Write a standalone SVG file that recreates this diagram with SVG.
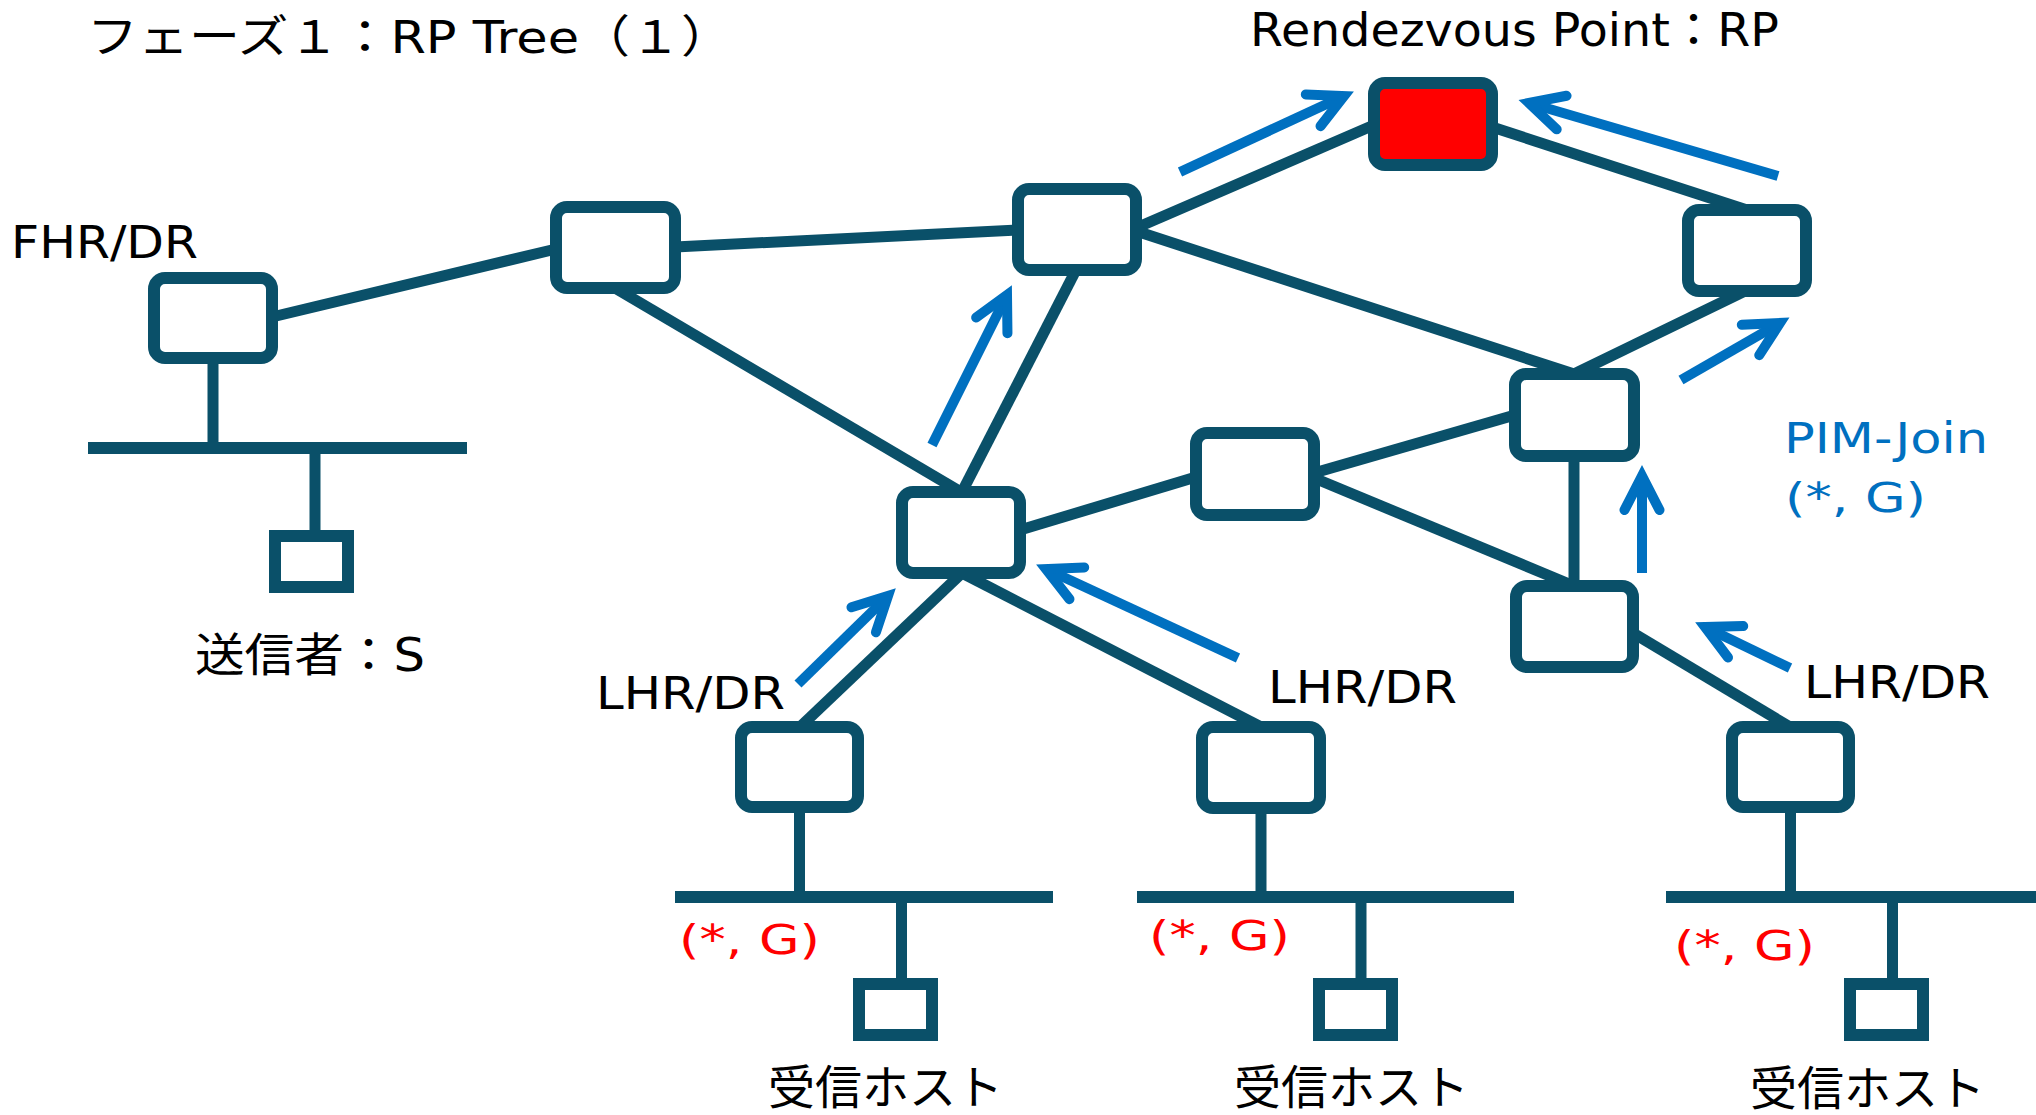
<svg xmlns="http://www.w3.org/2000/svg" width="2036" height="1115" viewBox="0 0 2036 1115">
  <defs>
    <style>
      .link { stroke: #0a5069; stroke-width: 11; fill: none; stroke-linecap: butt; }
      .bus { stroke: #0a5069; stroke-width: 12; fill: none; }
      .router { fill: #ffffff; stroke: #0a5069; stroke-width: 12; }
      .rp { fill: #ff0000; stroke: #0a5069; stroke-width: 12; }
      .host { fill: #ffffff; stroke: #0a5069; stroke-width: 12; }
      .join { stroke: #0070c0; stroke-width: 10; fill: none; stroke-linecap: butt; marker-end: url(#openHead); }
      .lbl { font-family: "DejaVu Sans", "Noto Sans CJK JP", sans-serif; fill: #000000; }
      .jp { font-family: "Noto Sans CJK JP", "DejaVu Sans", sans-serif; fill: #000000; }
      .blue { fill: #0070c0; }
      .red { fill: #ff0000; }
    </style>
    <marker id="openHead" markerUnits="userSpaceOnUse" orient="auto" refX="0" refY="0" markerWidth="1" markerHeight="1" overflow="visible">
      <path d="M-34,-17.5 L0,0 L-34,17.5" fill="none" stroke="#0070c0" stroke-width="10" stroke-linecap="round" stroke-linejoin="miter" stroke-miterlimit="10"/>
    </marker>
  </defs>

  <rect width="2036" height="1115" fill="#ffffff"/>

  <!-- links between routers, buses and host stubs -->
  <g id="connectors">
    <line class="link" x1="272" y1="317" x2="556" y2="249"/>
    <line class="link" x1="675" y1="247" x2="1018" y2="230"/>
    <line class="link" x1="615" y1="288" x2="961" y2="492"/>
    <line class="link" x1="1076" y1="270" x2="962" y2="492"/>
    <line class="link" x1="1136" y1="228" x2="1374" y2="125"/>
    <line class="link" x1="1136" y1="231" x2="1574" y2="374"/>
    <line class="link" x1="1492" y1="127" x2="1747" y2="210"/>
    <line class="link" x1="1745" y1="291" x2="1574" y2="374"/>
    <line class="link" x1="1515" y1="415" x2="1314" y2="473"/>
    <line class="link" x1="1314" y1="478" x2="1574" y2="586"/>
    <line class="link" x1="1574" y1="456" x2="1574" y2="586"/>
    <line class="link" x1="1020" y1="530" x2="1196" y2="477"/>
    <line class="link" x1="962" y1="573" x2="800" y2="727"/>
    <line class="link" x1="962" y1="573" x2="1261" y2="727"/>
    <line class="link" x1="1633" y1="633" x2="1790" y2="727"/>

    <!-- router to segment stubs -->
    <line class="link" x1="213" y1="358" x2="213" y2="448"/>
    <line class="link" x1="799.5" y1="807" x2="799.5" y2="897"/>
    <line class="link" x1="1261" y1="808" x2="1261" y2="897"/>
    <line class="link" x1="1790.5" y1="807" x2="1790.5" y2="897"/>

    <!-- LAN segments -->
    <line class="bus" x1="88" y1="448" x2="467" y2="448"/>
    <line class="bus" x1="675" y1="897" x2="1053" y2="897"/>
    <line class="bus" x1="1137" y1="897" x2="1514" y2="897"/>
    <line class="bus" x1="1666" y1="897" x2="2036" y2="897"/>

    <!-- host stubs -->
    <line class="link" x1="315" y1="448" x2="315" y2="536"/>
    <line class="link" x1="901.5" y1="897" x2="901.5" y2="984"/>
    <line class="link" x1="1361" y1="897" x2="1361" y2="984"/>
    <line class="link" x1="1892.5" y1="897" x2="1892.5" y2="984"/>
  </g>

  <!-- routers -->
  <g id="fhr"><rect class="router" x="154" y="278" width="118" height="80" rx="11"/></g>
  <g id="r-a"><rect class="router" x="556" y="207" width="119" height="81" rx="11"/></g>
  <g id="r-b"><rect class="router" x="1018" y="189" width="118" height="81" rx="11"/></g>
  <g id="rp"><rect class="rp" x="1374" y="83" width="118" height="82" rx="11"/></g>
  <g id="r-d"><rect class="router" x="1688" y="210" width="118" height="81" rx="11"/></g>
  <g id="r-e"><rect class="router" x="1515" y="374" width="119" height="82" rx="11"/></g>
  <g id="r-f"><rect class="router" x="1196" y="433" width="118" height="82" rx="11"/></g>
  <g id="r-g"><rect class="router" x="902" y="492" width="118" height="81" rx="11"/></g>
  <g id="r-h"><rect class="router" x="1516" y="586" width="117" height="81" rx="11"/></g>
  <g id="lhr1"><rect class="router" x="741" y="727" width="117" height="80" rx="11"/></g>
  <g id="lhr2"><rect class="router" x="1202" y="727" width="118" height="81" rx="11"/></g>
  <g id="lhr3"><rect class="router" x="1732" y="727" width="117" height="80" rx="11"/></g>

  <!-- hosts -->
  <g id="sender"><rect class="host" x="275" y="536" width="73" height="51"/></g>
  <g id="recv1"><rect class="host" x="859" y="984" width="73" height="51"/></g>
  <g id="recv2"><rect class="host" x="1319" y="984" width="73" height="51"/></g>
  <g id="recv3"><rect class="host" x="1850" y="984" width="73" height="51"/></g>

  <!-- PIM (*,G) join messages travelling toward the RP -->
  <g id="joins">
    <line class="join" x1="798" y1="684" x2="888" y2="596"/>
    <line class="join" x1="932" y1="445" x2="1007" y2="295"/>
    <line class="join" x1="1180" y1="172" x2="1344" y2="96"/>
    <line class="join" x1="1778" y1="176" x2="1529" y2="103"/>
    <line class="join" x1="1681" y1="380" x2="1780" y2="323"/>
    <line class="join" x1="1642" y1="573" x2="1642" y2="476"/>
    <line class="join" x1="1790" y1="668" x2="1705" y2="627"/>
    <line class="join" x1="1238" y1="658" x2="1046" y2="569"/>
  </g>

  <!-- labels -->
  <g id="labels">
    <text class="jp" x="87" y="53" font-size="45" textLength="645" lengthAdjust="spacingAndGlyphs">フェーズ１：<tspan font-family="DejaVu Sans">RP Tree</tspan>（１）</text>
    <text class="lbl" x="1250" y="46" font-size="46" textLength="529" lengthAdjust="spacingAndGlyphs">Rendezvous Point：RP</text>
    <text class="lbl" x="11" y="258" font-size="44" textLength="187" lengthAdjust="spacingAndGlyphs">FHR/DR</text>
    <text class="lbl" x="195" y="671" font-size="46" textLength="230" lengthAdjust="spacingAndGlyphs">送信者：S</text>
    <text class="lbl" x="596" y="709" font-size="44" textLength="189" lengthAdjust="spacingAndGlyphs">LHR/DR</text>
    <text class="lbl" x="1268" y="703" font-size="44" textLength="189" lengthAdjust="spacingAndGlyphs">LHR/DR</text>
    <text class="lbl" x="1804" y="698" font-size="44" textLength="186" lengthAdjust="spacingAndGlyphs">LHR/DR</text>
    <text class="lbl blue" x="1784" y="453" font-size="42" textLength="204" lengthAdjust="spacingAndGlyphs">PIM-Join</text>
    <text class="lbl blue" x="1785" y="512" font-size="40" textLength="141" lengthAdjust="spacingAndGlyphs">(*, G)</text>
    <text class="lbl red" x="679" y="954" font-size="40" textLength="141" lengthAdjust="spacingAndGlyphs">(*, G)</text>
    <text class="lbl red" x="1149" y="950" font-size="40" textLength="141" lengthAdjust="spacingAndGlyphs">(*, G)</text>
    <text class="lbl red" x="1674" y="960" font-size="40" textLength="141" lengthAdjust="spacingAndGlyphs">(*, G)</text>
    <text class="jp" x="768" y="1104" font-size="47">受信ホスト</text>
    <text class="jp" x="1234" y="1104" font-size="47">受信ホスト</text>
    <text class="jp" x="1750" y="1105" font-size="47">受信ホスト</text>
  </g>
</svg>
